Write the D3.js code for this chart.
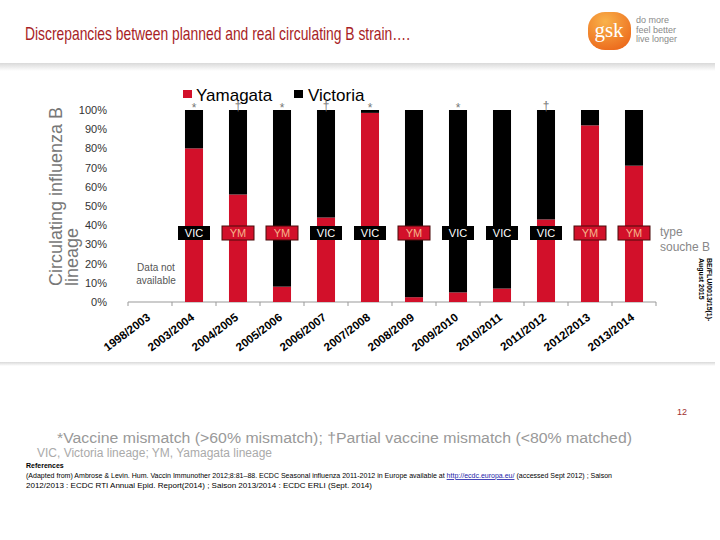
<!DOCTYPE html>
<html><head><meta charset="utf-8">
<script src="https://cdn.jsdelivr.net/npm/d3@7"></script>
<style>body{margin:0;background:#fff}svg{display:block;font-family:"Liberation Sans",Arial,sans-serif}</style>
</head><body><svg id="c" width="720" height="540"></svg>
<script>
const seasons = ["1998/2003","2003/2004","2004/2005","2005/2006","2006/2007","2007/2008","2008/2009","2009/2010","2010/2011","2011/2012","2012/2013","2013/2014"];
const yamagata = [null,80,56,8,44,98.5,2.5,5,7,43,92,71];
const victoria = [null,20,44,92,56,1.5,97.5,95,93,57,8,29];
const vaccineStrain = [null,"VIC","YM","YM","VIC","VIC","YM","VIC","VIC","VIC","YM","YM"];
const mismatch = [null,"*","†","*","†","*",null,"*",null,"†",null,null];
const yTicks = [0,10,20,30,40,50,60,70,80,90,100];

const RED = "#d2102a", BLACK = "#000";
const svg = d3.select("#c");
const defs = svg.append("defs");

// header
const g1 = defs.append("linearGradient").attr("id","band").attr("x1",0).attr("y1",0).attr("x2",0).attr("y2",1);
g1.append("stop").attr("offset",0).attr("stop-color","#d9d9d9");
g1.append("stop").attr("offset",1).attr("stop-color","#ffffff");
svg.append("rect").attr("x",0).attr("y",63).attr("width",715).attr("height",8).attr("fill","url(#band)");
svg.append("rect").attr("x",0).attr("y",362).attr("width",715).attr("height",4).attr("fill","url(#band)");

svg.append("text").attr("x",25).attr("y",40).attr("font-size",18.5).attr("fill","#a81e26")
  .attr("textLength",385).attr("lengthAdjust","spacingAndGlyphs")
  .text("Discrepancies between planned and real circulating B strain….");

const lg = defs.append("radialGradient").attr("id","logo").attr("cx","40%").attr("cy","25%").attr("r","80%");
lg.append("stop").attr("offset",0).attr("stop-color","#f9b24a");
lg.append("stop").attr("offset",1).attr("stop-color","#ec6a1c");
svg.append("rect").attr("x",588).attr("y",12).attr("width",43).attr("height",38).attr("rx",17).attr("ry",16).attr("fill","url(#logo)");
svg.append("text").attr("x",609).attr("y",37).attr("text-anchor","middle").attr("font-family","Liberation Serif, serif")
  .attr("font-size",21).attr("fill","#fff").text("gsk");
["do more","feel better","live longer"].forEach((t,i)=>{
  svg.append("text").attr("x",636).attr("y",23+i*9.5).attr("font-size",9).attr("fill","#8a8a8a").text(t);
});

// scales
const x = d3.scaleBand().domain(seasons).range([128,656]).paddingInner(0.59).paddingOuter(0.295);
const y = d3.scaleLinear().domain([0,100]).range([302,110]);

// y axis
const ya = svg.append("g").attr("transform","translate(110,0)")
  .call(d3.axisLeft(y).tickValues(yTicks).tickSize(0).tickPadding(3).tickFormat(d=>d+"%"));
ya.select(".domain").remove();
ya.selectAll("text").attr("font-size",11).attr("fill","#333").attr("font-family","Liberation Sans, Arial, sans-serif");

// x axis line and boundary ticks
const step = x.step();
svg.append("line").attr("x1",x.range()[0]).attr("x2",x.range()[1]).attr("y1",y(0)).attr("y2",y(0)).attr("stroke","#999");
svg.selectAll(".bt").data(d3.range(seasons.length+1)).join("line")
  .attr("x1",i=>x.range()[0]+i*step).attr("x2",i=>x.range()[0]+i*step)
  .attr("y1",y(0)).attr("y2",y(0)+4).attr("stroke","#999");

const xa = svg.append("g").attr("transform",`translate(0,${y(0)})`)
  .call(d3.axisBottom(x).tickSize(0).tickPadding(0));
xa.select(".domain").remove();
xa.selectAll("text").attr("font-size",11.5).attr("font-weight","bold").attr("fill","#000")
  .attr("font-family","Liberation Sans, Arial, sans-serif")
  .attr("text-anchor","end").attr("dy",0)
  .attr("transform","translate(1,17) rotate(-37)").attr("y",0).attr("x",0);

// bars
const data = seasons.map((s,i)=>({s,yam:yamagata[i],vic:victoria[i],vac:vaccineStrain[i],mk:mismatch[i]})).filter(d=>d.yam!==null);
svg.selectAll(".ry").data(data).join("rect")
  .attr("x",d=>x(d.s)).attr("width",x.bandwidth())
  .attr("y",d=>y(d.yam)).attr("height",d=>y(0)-y(d.yam)).attr("fill",RED);
svg.selectAll(".rv").data(data).join("rect")
  .attr("x",d=>x(d.s)).attr("width",x.bandwidth())
  .attr("y",d=>y(d.yam+d.vic)).attr("height",d=>y(d.yam)-y(d.yam+d.vic)).attr("fill",BLACK);

// vaccine strain boxes
const bw = 32, bh = 14, by = 226;
const bx = svg.selectAll(".vb").data(data).join("g").attr("transform",d=>`translate(${x(d.s)+x.bandwidth()/2},${by})`);
bx.append("rect").attr("x",-bw/2).attr("y",0).attr("width",bw).attr("height",bh)
  .attr("fill",d=>d.vac==="YM"?RED:BLACK).attr("stroke",d=>d.vac==="YM"?"#4a0a0a":"none").attr("stroke-width",1);
bx.append("text").attr("x",0).attr("y",11).attr("text-anchor","middle").attr("font-size",11)
  .attr("fill",d=>d.vac==="YM"?"#f6b48a":"#fff").text(d=>d.vac);

// mismatch markers
svg.selectAll(".mk").data(data.filter(d=>d.mk)).join("text")
  .attr("x",d=>x(d.s)+x.bandwidth()/2).attr("y",d=>d.mk==="*"?112:110)
  .attr("text-anchor","middle").attr("font-size",12).attr("fill","#777").text(d=>d.mk);

// legend
svg.append("rect").attr("x",183).attr("y",90).attr("width",9).attr("height",8).attr("fill",RED);
svg.append("text").attr("x",196).attr("y",101).attr("font-size",17).attr("fill","#000").text("Yamagata");
svg.append("rect").attr("x",294).attr("y",90).attr("width",9).attr("height",8).attr("fill",BLACK);
svg.append("text").attr("x",308).attr("y",101).attr("font-size",17).attr("fill","#000").text("Victoria");

// data not available
svg.append("text").attr("x",156).attr("y",271).attr("text-anchor","middle").attr("font-size",10).attr("fill","#555").text("Data not");
svg.append("text").attr("x",156).attr("y",284).attr("text-anchor","middle").attr("font-size",10).attr("fill","#555").text("available");

// y title
const yt = svg.append("text").attr("transform","translate(62,286) rotate(-90)").attr("text-anchor","start")
  .attr("font-size",18).attr("fill","#777");
yt.append("tspan").attr("x",0).attr("y",0).text("Circulating influenza B");
yt.append("tspan").attr("x",0).attr("y",16).text("lineage");

// right side
svg.append("text").attr("x",660).attr("y",236).attr("font-size",12).attr("fill","#888").text("type");
svg.append("text").attr("x",660).attr("y",251).attr("font-size",12).attr("fill","#888").text("souche B");
const rt = svg.append("text").attr("transform","translate(707,258) rotate(90)").attr("font-size",7).attr("font-weight","bold").attr("fill","#000");
rt.append("tspan").attr("x",0).attr("y",0).text("BE/FLU/0013/15(1)-");
rt.append("tspan").attr("x",0).attr("y",8).text("August 2015");

svg.append("text").attr("x",677).attr("y",415).attr("font-size",9).attr("fill","#a03030").text("12");

// footnotes
svg.append("text").attr("x",57).attr("y",443).attr("font-size",14).attr("fill","#999")
  .attr("textLength",575).attr("lengthAdjust","spacingAndGlyphs")
  .text("*Vaccine mismatch (>60% mismatch); †Partial vaccine mismatch (<80% matched)");
svg.append("text").attr("x",37).attr("y",457).attr("font-size",12).attr("fill","#aaa")
  .attr("textLength",235).attr("lengthAdjust","spacingAndGlyphs")
  .text("VIC, Victoria lineage; YM, Yamagata lineage");
svg.append("text").attr("x",26).attr("y",468).attr("font-size",7).attr("font-weight","bold").attr("fill","#000").text("References");
const r1 = svg.append("text").attr("x",26).attr("y",478).attr("font-size",8).attr("fill","#000")
  .attr("textLength",586).attr("lengthAdjust","spacingAndGlyphs");
r1.append("tspan").text("(Adapted from) Ambrose & Levin. Hum. Vaccin Immunother 2012;8:81–88. ECDC Seasonal influenza 2011-2012 in Europe available at ");
r1.append("tspan").attr("fill","#1a1aa8").attr("text-decoration","underline").text("http://ecdc.europa.eu/");
r1.append("tspan").text(" (accessed Sept 2012) ; Saison");
svg.append("text").attr("x",26).attr("y",488).attr("font-size",8).attr("fill","#000")
  .attr("textLength",346).attr("lengthAdjust","spacingAndGlyphs")
  .text("2012/2013 : ECDC RTI Annual Epid. Report(2014) ; Saison 2013/2014 : ECDC ERLI (Sept. 2014)");
</script></body></html>
